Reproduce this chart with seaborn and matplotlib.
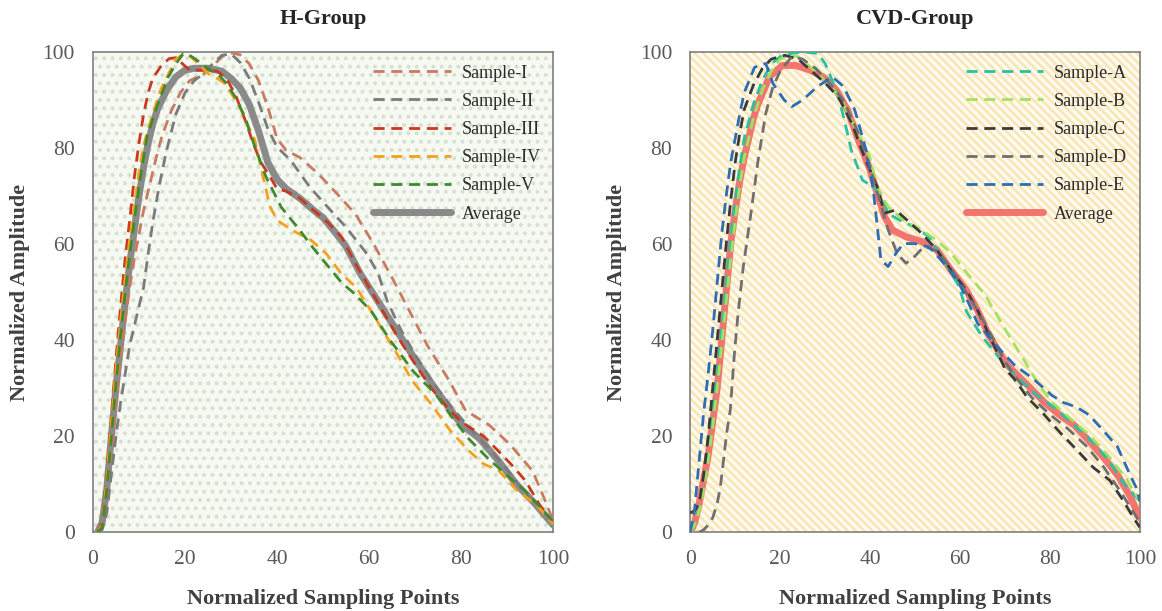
import matplotlib
matplotlib.use("Agg")
import matplotlib.pyplot as plt
from matplotlib.patches import Rectangle
import seaborn as sns

# ---------------- H-Group series ----------------
h_avg_x = [1, 2, 3, 4, 5, 6, 7, 8, 9, 10, 11, 12, 13, 14, 16, 18, 20, 22, 25, 28, 30, 32, 34, 36, 38,
           40, 42, 45, 48, 50, 53, 55, 58, 61, 65, 70, 75, 80, 84, 88, 92, 96, 100]
h_avg_y = [0, 2, 9, 20, 30, 39, 48, 56, 63, 70, 76, 81, 85, 88, 92, 94.8, 96.2, 96.6, 96.6, 96, 94.5, 92.5,
           89, 83.5, 77, 73.5, 71.5, 69.5, 67, 65.5, 62, 59.5, 54, 49.5, 43.5, 36, 29, 22.5, 19.5, 15, 10, 6, 1.5]

h_s1_x = [1, 2, 3, 4, 5, 6, 7, 8, 9, 10, 11, 12, 13, 14, 15, 17, 19, 21, 24, 26, 28, 30, 32, 34, 36, 38,
          40, 42, 45, 49, 53, 57, 61, 65, 68, 72.6, 77.5, 81, 86, 90.6, 95.5, 98, 100]
h_s1_y = [0, 1, 7, 17, 27, 36, 44, 51, 57, 62, 67, 71, 75, 79, 82.5, 87.7, 91.5, 94, 95.4, 97, 99, 99.8,
          99.4, 97.5, 94, 88.5, 82, 79.5, 78, 74.6, 70.5, 66.3, 60, 53, 47.5, 39, 31.4, 25.3, 22.4, 18.3,
          12.8, 7.2, 2.4]

h_s2_x = [1, 2, 3, 4, 5, 6, 7, 8, 9, 10, 11, 12, 13, 14, 15, 16, 18, 20, 22, 24, 26, 28, 30, 32, 34, 36,
          38, 40, 43, 47, 51, 55, 59.5, 62, 64, 67, 70, 74, 78, 82, 86, 90, 95, 100]
h_s2_y = [0, 0.5, 4, 12, 20, 27, 33, 39, 43, 47, 51, 58, 64.5, 70, 75, 79.5, 87, 91.5, 94, 95.5, 97.5,
          99.3, 99.6, 97.8, 94.5, 89.5, 84, 80.2, 77.4, 72, 67.7, 63.5, 58, 53.8, 48, 42, 37, 31, 26, 21.5,
          17.5, 13, 7, 2]

h_s3_x = [1, 2, 3, 4, 5, 6, 7, 8, 9, 10, 11, 12, 13, 14.6, 16.5, 18, 19.5, 21, 24, 27, 29, 31, 33, 35,
          36.5, 38.5, 40, 42, 45, 48, 51, 54, 57, 60, 63, 66, 70, 73.5, 77, 80, 84.9, 88, 91, 94, 97, 100]
h_s3_y = [0, 2, 12, 24, 36, 47, 57, 65, 74, 81, 87, 91.5, 94.5, 96.8, 98.6, 98.8, 97.5, 96.2, 96.2, 96,
          94.5, 91, 86, 80.5, 77, 74, 71.5, 71, 69.5, 67, 64.5, 61.5, 56, 51, 46, 41, 35, 30, 26, 23, 20,
          17, 14, 10.7, 5.8, 2]

h_s4_x = [1, 2, 3, 4, 5, 6, 7, 8, 9, 10, 11, 12, 12.8, 14.6, 16.7, 18, 19.7, 21, 23, 25, 27, 28.7, 30,
          31.9, 33.5, 35.2, 36.8, 38.5, 40.1, 43.4, 47.4, 50.7, 54, 57.2, 61.3, 66.1, 69.4, 73.5, 77.6,
          81.6, 84.9, 88.2, 92.2, 96.3, 100]
h_s4_y = [0, 1.5, 11, 23, 34, 44, 53, 61, 68, 75, 80.5, 84, 86.4, 91.9, 96, 98.5, 99.6, 99.2, 97.5, 95.5,
          94.5, 93.4, 91.5, 88.5, 85, 81.6, 74.7, 67.7, 64.9, 62.8, 60.8, 58, 53.8, 51, 44.7, 37.1, 31.5,
          26.7, 21.2, 17, 14.2, 12.8, 8.6, 5.8, 1.7]

h_s5_x = [1, 2, 3, 4, 5, 6, 7, 8, 9, 10, 11, 11.7, 13.8, 16.3, 18, 19.6, 21, 23, 25, 27, 29, 31, 33,
          35.2, 37.6, 40.9, 45, 48, 51, 54, 57, 60.5, 64.7, 69.6, 74.5, 77.6, 81.6, 85.7, 89.8, 93.9, 98, 100]
h_s5_y = [0, 1, 9, 20, 31, 41, 50, 58, 65, 72, 78, 82.2, 88.4, 94.7, 97.5, 99.6, 99.3, 98, 96.5, 95.5,
          93.5, 90.5, 86.5, 80.2, 74, 67.7, 62.8, 59, 55.5, 52, 49.5, 46, 39.8, 33.5, 28.7, 24.5, 19.5,
          15.5, 12, 8.6, 4.4, 2.2]

# ---------------- CVD-Group series ----------------
cvd_avg_x = [0, 1, 2, 3, 4, 5, 6, 7, 8, 9, 10, 11, 12, 13, 14, 15, 17.6, 20.5, 23.4, 26.7, 30, 32.5, 35,
             37.4, 40, 41.6, 43.2, 45, 48, 51.5, 54.8, 58, 61.4, 64, 66.4, 70.5, 74.6, 78.8, 82, 85.4,
             88.7, 92, 95.3, 97.8, 100]
cvd_avg_y = [0, 2, 6, 11, 16, 23, 30, 40, 50, 60, 67, 73, 78, 82, 86, 89, 94.8, 97.2, 97.2, 96.2, 94.5,
             92, 87.9, 81.6, 75.4, 70.5, 65.7, 62.9, 61.5, 60.5, 58.8, 54.6, 50.4, 46, 41, 34.8, 31, 27,
             24.5, 22.3, 19, 15.5, 11.5, 7.5, 3]

cvd_a_x = [0, 1, 2, 3, 4, 5, 6, 7, 8, 9, 10, 11, 12, 14, 16, 18, 20, 22.6, 25, 28.3, 30, 32.5, 34.1,
           35.8, 38.3, 40.7, 42.4, 44, 46.5, 49.8, 53.1, 56.4, 59.8, 61.4, 64.7, 68.8, 73, 77.1, 81.2,
           85.4, 88.7, 92.8, 96.1, 100]
cvd_a_y = [0, 2, 5, 10, 16, 24, 33, 42, 52, 61, 69, 76, 82, 89, 94, 97.5, 99, 99.7, 100, 99.7, 97.6,
           92, 86.5, 79.6, 73.3, 71.9, 70.5, 66.4, 65, 63.6, 61.5, 56.7, 51.1, 46, 41, 36.2, 32, 28.5,
           25.8, 22.3, 19.5, 15.3, 10.5, 6.4]

cvd_b_x = [0, 1, 2, 3, 4, 5, 6, 7, 8, 9, 10, 11, 12, 14, 16, 18, 20, 22, 24, 26, 28.3, 30.5, 33.3, 36.6,
           39.9, 41.6, 44, 47.4, 51.5, 54.8, 58.1, 62.2, 65.5, 68, 70.5, 73.8, 77.1, 80.4, 84.5, 88.7,
           92.8, 96.9, 100]
cvd_b_y = [0, 1.5, 4.5, 9, 15, 22, 30, 39, 48, 57, 65, 72, 78, 86, 92, 96, 98.5, 99.3, 99, 97.5, 95.5,
           93.5, 90.6, 84.4, 78.2, 71.9, 67.7, 65, 62.9, 60.8, 58, 53.2, 49.5, 45.5, 41.5, 36.5, 31.3,
           27.1, 23.7, 20.3, 16.1, 11.2, 6.4]

cvd_c_x = [0, 1, 2, 3, 4, 5, 6, 7, 8, 9, 10, 11, 12, 14, 16, 18, 21, 24, 27, 30, 33, 36, 39, 41.6,
           43.2, 45.7, 48.2, 51.5, 54.8, 58, 61.4, 64, 67, 70, 72, 75, 78.4, 82.2, 86, 89.6, 93.3, 96.2,
           98.9, 100]
cvd_c_y = [4, 4.5, 6, 12, 20, 30, 40, 50, 60, 69, 77, 83, 88, 93, 96.5, 98.5, 99.3, 98.5, 96, 93.5,
           90.6, 85, 77.5, 71.9, 66.4, 67.1, 65, 62.2, 58.8, 54.6, 50.4, 46, 40, 34, 32, 28, 24.8, 20.8,
           17.1, 13.5, 10.8, 6.7, 2.5, 1]

cvd_d_x = [2, 3, 4, 5, 6, 6.7, 8.1, 8.9, 9.8, 10.6, 11.8, 13.5, 15.1, 16.8, 18.4, 20.1, 22.6, 25, 28,
           31, 34, 37, 40, 42, 44, 46, 48, 50, 52, 55, 58, 61, 64, 67, 70, 73, 76, 80, 84, 88, 92, 96, 100]
cvd_d_y = [0, 0.5, 1.5, 3, 6, 9.4, 20.6, 25.4, 36.9, 45.2, 55.3, 66.4, 77.5, 87.2, 92.8, 96.2, 99, 98.5,
           96.5, 93.5, 90, 84, 76, 69.5, 63, 58, 56, 57.5, 59.5, 58.5, 55, 50.5, 46, 41, 35.5, 31.5, 28,
           24.5, 21.5, 18, 13.5, 8, 2]

cvd_e_x = [0, 1, 2, 3, 4, 5, 6, 7, 8, 9, 10, 11, 12, 14.3, 16.8, 18.4, 20.9, 22.6, 25, 28.3, 31.6, 34.1,
           36.6, 39.1, 40.7, 41.6, 42.4, 44, 45.7, 47.4, 49.8, 53.1, 56.4, 59.8, 62, 63.9, 68, 72.1,
           76.2, 80.4, 83, 86, 88.7, 92, 95, 97.3, 99.3, 100]
cvd_e_y = [0, 5, 15, 25, 33, 42, 52, 62, 70, 77, 82, 87, 91.5, 96.8, 97.6, 93.4, 90, 88.6, 90, 92.8,
           94.8, 92.8, 87.9, 79.6, 71.3, 63.6, 56.7, 55.3, 58, 60.1, 60.1, 59.4, 56, 51.8, 47.5, 43.5,
           38.9, 34.8, 32, 28.5, 27, 26, 24.4, 21, 17.8, 13, 9, 6.4]

h_labels = ["Sample-I", "Sample-II", "Sample-III", "Sample-IV", "Sample-V", "Average"]
cvd_labels = ["Sample-A", "Sample-B", "Sample-C", "Sample-D", "Sample-E", "Average"]
x_ticks = [0, 20, 40, 60, 80, 100]
y_ticks = [0, 20, 40, 60, 80, 100]

h_series = [(h_s1_x, h_s1_y), (h_s2_x, h_s2_y), (h_s3_x, h_s3_y), (h_s4_x, h_s4_y), (h_s5_x, h_s5_y)]
cvd_series = [(cvd_a_x, cvd_a_y), (cvd_b_x, cvd_b_y), (cvd_c_x, cvd_c_y), (cvd_d_x, cvd_d_y),
              (cvd_e_x, cvd_e_y)]
h_colors = ["#c97a62", "#7b7b7b", "#c9381f", "#f5a11c", "#3f8a2f"]
cvd_colors = ["#27c2a3", "#a2e25c", "#3a3a3a", "#6f6f6f", "#2e6db4"]

sns.set_style("white")
plt.rcParams["font.family"] = ["Liberation Serif", "DejaVu Serif"]

fig = plt.figure(figsize=(11.62, 6.11), dpi=100)
ax_h = fig.add_axes([0.080, 0.129, 0.396, 0.786])
ax_c = fig.add_axes([0.594, 0.129, 0.387, 0.786])

DASH = (0, (4.0, 2.4))


def textured_background(ax, base, mark, pattern, hlw):
    ax.set_facecolor(base)
    with plt.rc_context({"hatch.linewidth": hlw}):
        rect = Rectangle((0, 0), 1, 1, transform=ax.transAxes, facecolor=base,
                         edgecolor=mark, hatch=pattern, linewidth=0, zorder=0)
    if hasattr(rect, "set_hatch_linewidth"):
        rect.set_hatch_linewidth(hlw)
    ax.add_patch(rect)


def draw_panel(ax, series, colors, labels, avg_x, avg_y, avg_color, avg_alpha, title):
    sns.lineplot(x=avg_x, y=avg_y, ax=ax, color=avg_color, linewidth=5.0, alpha=avg_alpha,
                 label=labels[-1], zorder=3, solid_capstyle="round")
    for (sx, sy), col, lab in zip(series, colors, labels[:-1]):
        sns.lineplot(x=sx, y=sy, ax=ax, color=col, linewidth=2.0, linestyle=DASH,
                     label=lab, zorder=4)
    ax.set_xlim(0, 100)
    ax.set_ylim(0, 100)
    ax.set_xticks(x_ticks)
    ax.set_yticks(y_ticks)
    ax.tick_params(direction="in", length=5, width=1, color="#808080",
                   labelcolor="#595959", labelsize=15.5, pad=13)
    for sp in ax.spines.values():
        sp.set_visible(True)
        sp.set_color("#7f7f7f")
        sp.set_linewidth(1.2)
    ax.set_title(title, fontsize=16, fontweight="bold", pad=20)
    ax.set_xlabel("Normalized Sampling Points", fontsize=16, fontweight="bold",
                  color="#404040", labelpad=14)
    ax.set_ylabel("Normalized Amplitude", fontsize=16, fontweight="bold",
                  color="#404040", labelpad=9)
    handles, labs = ax.get_legend_handles_labels()
    order = [labs.index(l) for l in labels]
    leg = ax.legend([handles[i] for i in order], [labs[i] for i in order],
                    loc="upper right", bbox_to_anchor=(1.0, 1.0), frameon=False,
                    fontsize=13, handlelength=4.3, handletextpad=0.6,
                    labelspacing=0.62, borderaxespad=0.3)
    for t in leg.get_texts():
        t.set_color("#2b2b2b")


textured_background(ax_h, "#f6f9f2", "#d5e0cd", "..", 1.6)
textured_background(ax_c, "#fffbf2", "#f8e6b4", "\\\\\\\\", 1.9)

draw_panel(ax_h, h_series, h_colors, h_labels, h_avg_x, h_avg_y, "#8a8a8a", 1.0, "H-Group")
draw_panel(ax_c, cvd_series, cvd_colors, cvd_labels, cvd_avg_x, cvd_avg_y, "#f26a66", 0.92, "CVD-Group")

fig.savefig("out.png", dpi=100)
